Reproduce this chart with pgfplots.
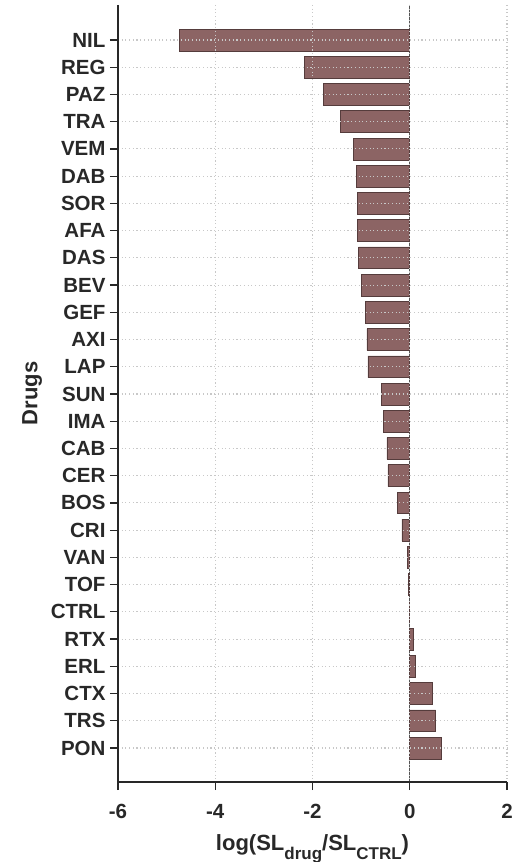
\documentclass[border=0pt]{standalone}
\usepackage{fontspec}
\setmainfont{Liberation Sans}
\usepackage{pgfplots}
\pgfplotsset{compat=1.18}
\definecolor{barfill}{RGB}{140,100,100}
\definecolor{baredge}{RGB}{85,60,60}
\definecolor{spine}{RGB}{40,40,40}
\definecolor{gridc}{RGB}{200,200,200}
\begin{document}
\begin{tikzpicture}
\useasboundingbox (-118pt,-80pt) rectangle (394pt,782pt);
\begin{axis}[
  scale only axis,
  width=389pt, height=777pt,
  xmin=-6, xmax=2,
  ymin=-1.285, ymax=27.25,
  y dir=reverse,
  xbar, bar width=0.8,
  axis x line*=bottom, axis y line*=left,
  axis line style={spine, line width=1.4pt, -},
  axis on top,
  xtick={-6,-4,-2,0,2},
  ytick={0,...,26},
  yticklabels={NIL,REG,PAZ,TRA,VEM,DAB,SOR,AFA,DAS,BEV,GEF,AXI,LAP,SUN,IMA,CAB,CER,BOS,CRI,VAN,TOF,CTRL,RTX,ERL,CTX,TRS,PON},
  tick align=outside,
  major tick length=8pt,
  tick style={spine, line width=1.2pt},
  grid=major,
  major grid style={gridc, line width=1.1pt, dash pattern=on 1.1pt off 2.6pt},
  /pgf/number format/assume math mode=true,
  ticklabel style={font=\fontsize{20.5}{20.5}\selectfont\bfseries, text=spine},
  yticklabel style={xshift=-1pt},
  xticklabel style={yshift=-11pt},
  xlabel={log(SL\raisebox{-0.4em}{\fontsize{17}{17}\selectfont drug}/SL\raisebox{-0.4em}{\fontsize{17}{17}\selectfont CTRL})},
  ylabel={Drugs},
  label style={font=\fontsize{22}{22}\selectfont\bfseries, text=spine},
  xlabel style={yshift=-9pt},
  ylabel style={yshift=2pt},
]
% reference line at zero
\draw[spine!80, line width=0.8pt] (axis cs:0,-1.285) -- (axis cs:0,27.25);
\addplot[fill=barfill, draw=baredge, line width=0.6pt] coordinates {
(-4.73,0) (-2.16,1) (-1.77,2) (-1.42,3) (-1.16,4) (-1.09,5) (-1.07,6)
(-1.07,7) (-1.05,8) (-0.99,9) (-0.92,10) (-0.88,11) (-0.86,12)
(-0.58,13) (-0.54,14) (-0.47,15) (-0.45,16) (-0.25,17) (-0.16,18)
(-0.04,19) (-0.02,20) (0,21) (0.08,22) (0.12,23) (0.47,24) (0.53,25) (0.64,26)
};
\end{axis}
\end{tikzpicture}
\end{document}
